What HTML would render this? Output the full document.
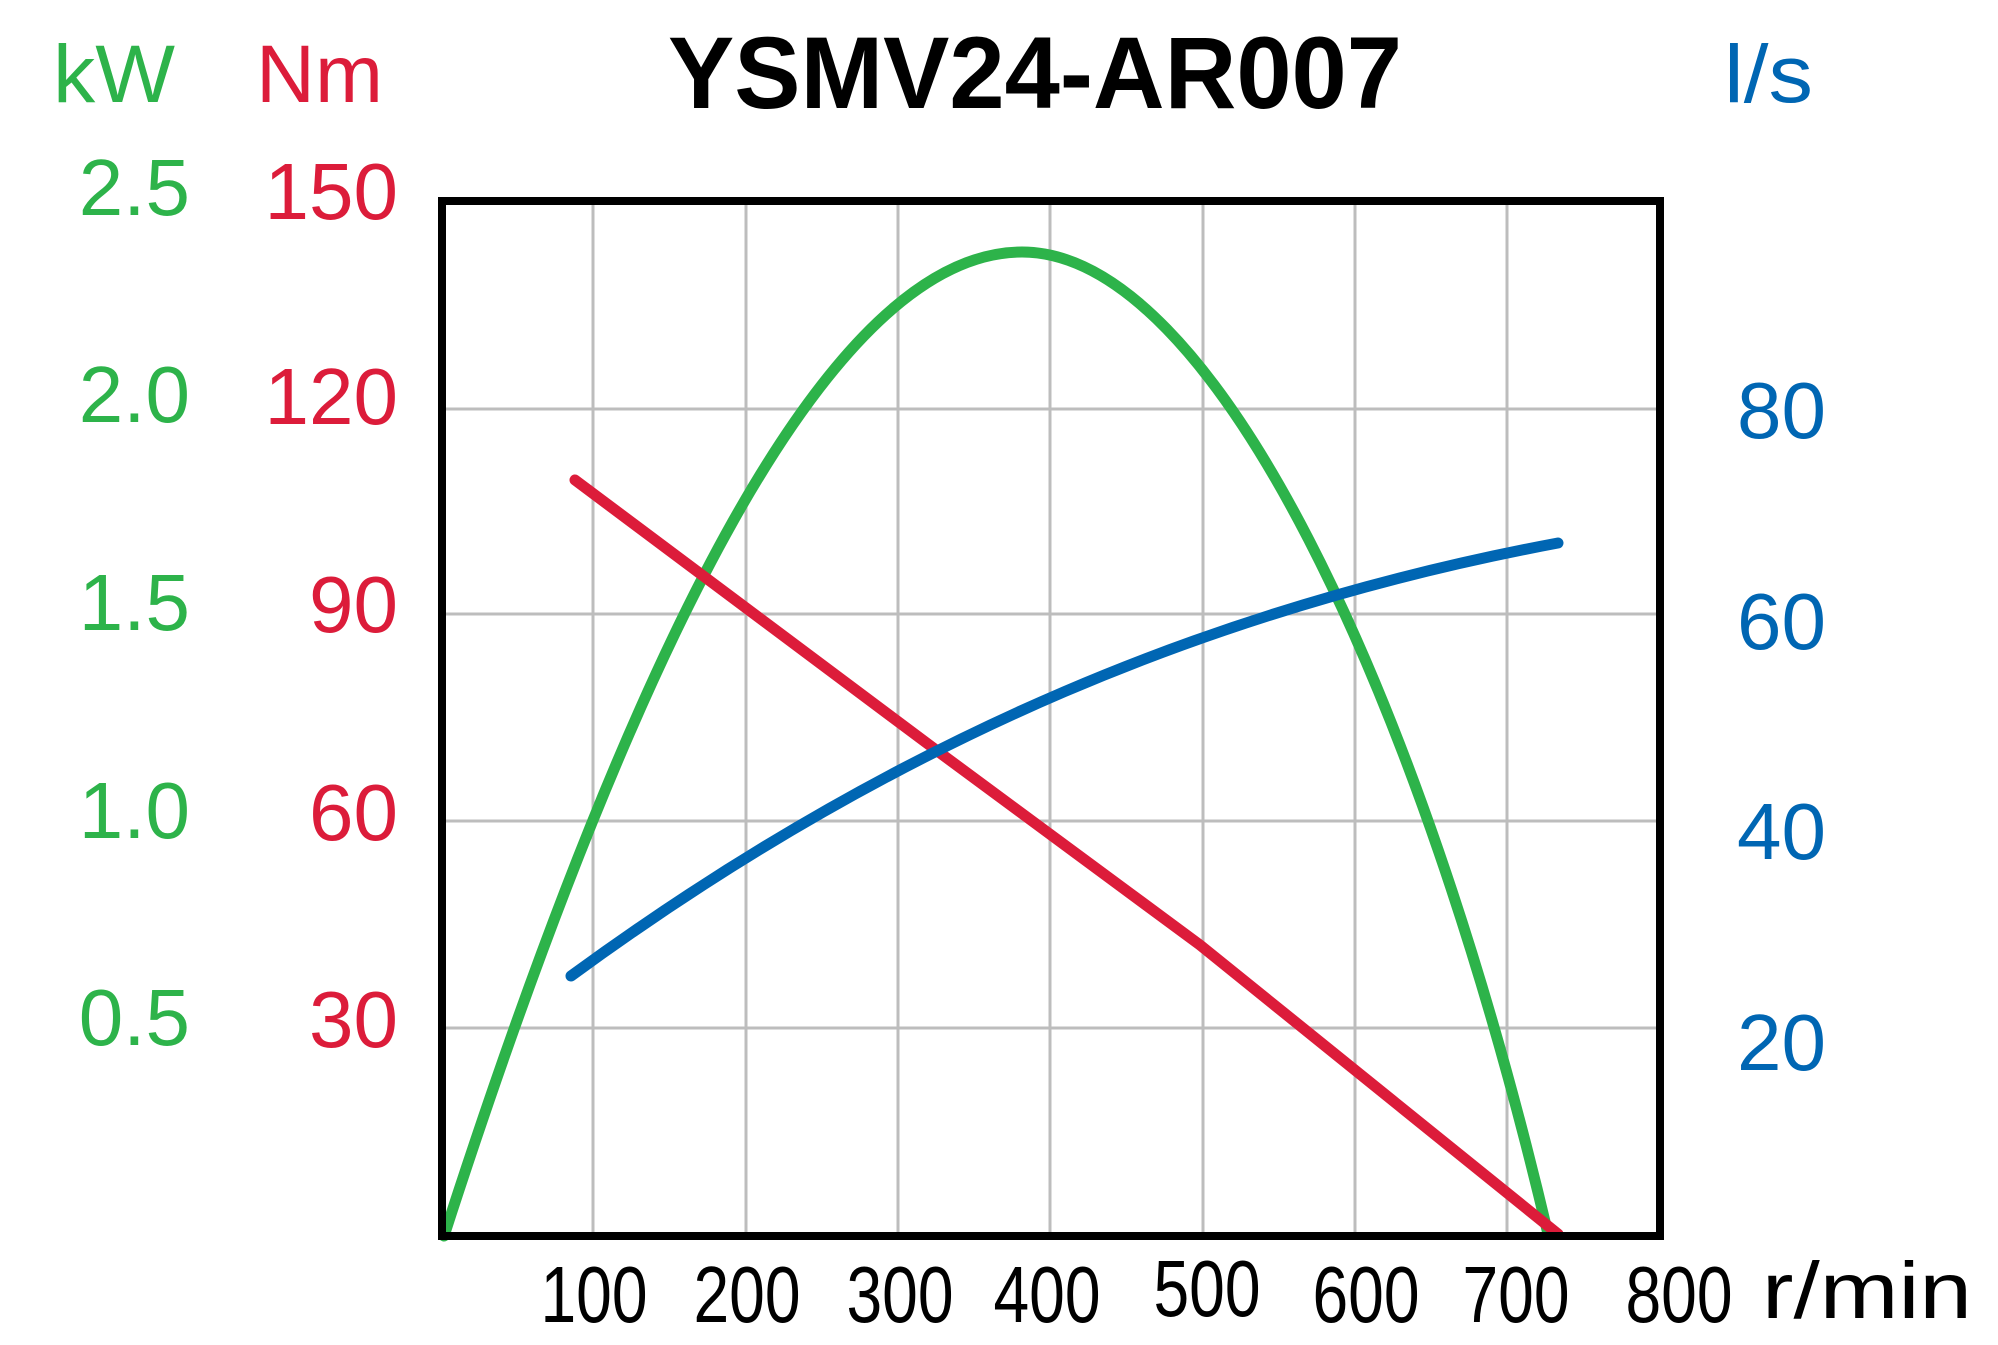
<!DOCTYPE html>
<html><head><meta charset="utf-8"><style>html,body{margin:0;padding:0;background:#fff}svg{display:block}</style></head>
<body>
<svg width="1998" height="1345" viewBox="0 0 1998 1345" xmlns="http://www.w3.org/2000/svg" font-family="Liberation Sans, sans-serif">
<g stroke="#bdbdbd" stroke-width="3">
<line x1="593" y1="201" x2="593" y2="1236"/><line x1="746" y1="201" x2="746" y2="1236"/>
<line x1="898" y1="201" x2="898" y2="1236"/><line x1="1050" y1="201" x2="1050" y2="1236"/>
<line x1="1203" y1="201" x2="1203" y2="1236"/><line x1="1355" y1="201" x2="1355" y2="1236"/>
<line x1="1507" y1="201" x2="1507" y2="1236"/>
<line x1="442" y1="409" x2="1660" y2="409"/><line x1="442" y1="614" x2="1660" y2="614"/>
<line x1="442" y1="821" x2="1660" y2="821"/><line x1="442" y1="1028" x2="1660" y2="1028"/>
</g>
<g fill="none" stroke-width="11" stroke-linecap="round" stroke-linejoin="round">
<path stroke="#2db34a" d="M444,1236 C636,642 830,252 1022,252 C1213,252 1420,691 1548,1234"/>
<path stroke="#dc1c3a" d="M575,480 L932,747 L1200,945 L1558,1234"/>
<path stroke="#0066b3" d="M571,976 C903,733 1226,605 1558,543"/>
</g>
<rect x="442" y="201" width="1218" height="1035" fill="none" stroke="#000" stroke-width="8"/>
<text x="1035" y="108" text-anchor="middle" font-weight="bold" font-size="102" textLength="734" lengthAdjust="spacingAndGlyphs">YSMV24-AR007</text>
<g font-size="82">
<text x="53" y="102" fill="#2db34a" textLength="122" lengthAdjust="spacingAndGlyphs">kW</text>
<text x="256" y="102" fill="#dc1c3a" textLength="127" lengthAdjust="spacingAndGlyphs">Nm</text>
<text x="1724" y="102" fill="#0066b3" textLength="89" lengthAdjust="spacingAndGlyphs">l/s</text>
</g>
<g font-size="80" fill="#2db34a" text-anchor="end">
<text x="190" y="215">2.5</text><text x="190" y="422">2.0</text><text x="190" y="630">1.5</text><text x="190" y="838">1.0</text><text x="190" y="1045">0.5</text>
</g>
<g font-size="80" fill="#dc1c3a" text-anchor="end">
<text x="398" y="219">150</text><text x="398" y="424">120</text><text x="398" y="632">90</text><text x="398" y="840">60</text><text x="398" y="1047">30</text>
</g>
<g font-size="80" fill="#0066b3" text-anchor="start">
<text x="1737" y="438">80</text><text x="1737" y="649">60</text><text x="1737" y="859">40</text><text x="1737" y="1070">20</text>
</g>
<g font-size="80" fill="#000" text-anchor="middle">
<text x="594" y="1322" textLength="107" lengthAdjust="spacingAndGlyphs">100</text>
<text x="747" y="1322" textLength="107" lengthAdjust="spacingAndGlyphs">200</text>
<text x="900" y="1322" textLength="107" lengthAdjust="spacingAndGlyphs">300</text>
<text x="1047" y="1322" textLength="107" lengthAdjust="spacingAndGlyphs">400</text>
<text x="1207" y="1316" textLength="107" lengthAdjust="spacingAndGlyphs">500</text>
<text x="1366" y="1322" textLength="107" lengthAdjust="spacingAndGlyphs">600</text>
<text x="1516" y="1322" textLength="107" lengthAdjust="spacingAndGlyphs">700</text>
<text x="1679" y="1322" textLength="107" lengthAdjust="spacingAndGlyphs">800</text>
<text x="1867" y="1318" textLength="210" lengthAdjust="spacingAndGlyphs">r/min</text>
</g>
</svg>
</body></html>
